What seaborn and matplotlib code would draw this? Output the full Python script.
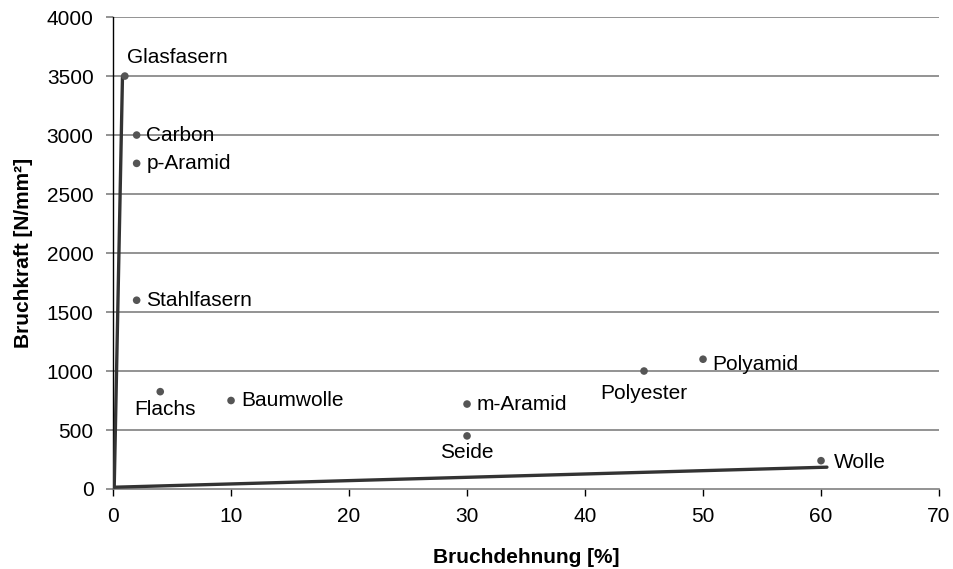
import pandas as pd
import matplotlib.pyplot as plt
import seaborn as sns

# fibre data
fasern = ['Glasfasern', 'Carbon', 'p-Aramid', 'Stahlfasern', 'Flachs', 'Baumwolle',
          'm-Aramid', 'Seide', 'Polyester', 'Polyamid', 'Wolle']
dehnung = [1, 2, 2, 2, 4, 10, 30, 30, 45, 50, 60]
kraft = [3500, 3000, 2760, 1600, 825, 750, 720, 450, 1000, 1100, 240]

# the two boundary lines
steil_x = [0.1, 0.8]
steil_y = [20, 3500]
flach_x = [0.1, 60.5]
flach_y = [15, 185]

df = pd.DataFrame({'Faser': fasern, 'Dehnung': dehnung, 'Kraft': kraft})

sns.set_style('white')
plt.rcParams['font.family'] = ['Liberation Sans', 'DejaVu Sans']
plt.rcParams['text.color'] = 'black'
plt.rcParams['axes.labelcolor'] = 'black'
plt.rcParams['xtick.labelcolor'] = 'black'
plt.rcParams['ytick.labelcolor'] = 'black'

fig = plt.figure(figsize=(9.54, 5.69), dpi=100)
ax = fig.add_axes([0.1185, 0.1406, 0.8658, 0.8294])

grid_col = '#808080'
for yv in range(500, 4001, 500):
    ax.axhline(yv, color=grid_col, lw=1.2, zorder=1)

sns.lineplot(x=steil_x, y=steil_y, ax=ax, color='#333333', lw=2.4, zorder=3)
sns.lineplot(x=flach_x, y=flach_y, ax=ax, color='#333333', lw=2.4, zorder=3)
sns.scatterplot(data=df, x='Dehnung', y='Kraft', ax=ax, color='#555555', s=30,
                edgecolor='none', zorder=4)

# label offsets (points) and alignment per fibre
offsets = {
    'Glasfasern': (1.5, 13.5, 'left'),
    'Carbon': (7, 0, 'left'),
    'p-Aramid': (7, 0, 'left'),
    'Stahlfasern': (7, 0, 'left'),
    'Flachs': (3.5, -12.5, 'center'),
    'Baumwolle': (7, 0, 'left'),
    'm-Aramid': (7, 0, 'left'),
    'Seide': (0, -12, 'center'),
    'Polyester': (0, -16.5, 'center'),
    'Polyamid': (6.5, -3.5, 'left'),
    'Wolle': (9, -1.5, 'left'),
}
for f, xv, yv in zip(fasern, dehnung, kraft):
    dx, dy, ha = offsets[f]
    ax.annotate(f, (xv, yv), xytext=(dx, dy), textcoords='offset points',
                ha=ha, va='center', fontsize=15, color='black', zorder=5)

ax.set_xlim(0, 70)
ax.set_ylim(0, 4000)
ax.set_xticks(range(0, 71, 10))
ax.set_yticks(range(0, 4001, 500))

for s in ['top', 'right']:
    ax.spines[s].set_visible(False)
ax.spines['left'].set_color('black')
ax.spines['left'].set_linewidth(1.0)
ax.spines['bottom'].set_color(grid_col)
ax.spines['bottom'].set_linewidth(1.2)

ax.tick_params(axis='y', direction='out', length=5, width=1.2, color=grid_col,
               labelsize=15, pad=9, left=True, labelcolor='black')
ax.tick_params(axis='x', direction='out', length=5, width=1.0, color='black',
               labelsize=15, pad=8, bottom=True, labelcolor='black')

ax.set_xlabel('Bruchdehnung [%]', fontsize=15, fontweight='bold', labelpad=16, color='black')
ax.set_ylabel('Bruchkraft [N/mm²]', fontsize=15, fontweight='bold', labelpad=10, color='black')

plt.savefig('out.png', dpi=100)
